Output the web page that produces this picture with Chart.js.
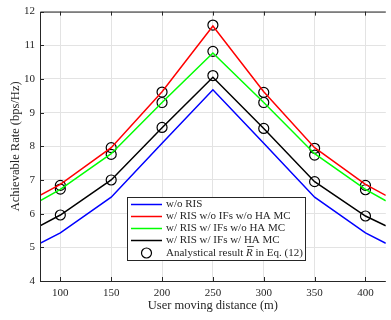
<!DOCTYPE html>
<html>
<head>
<meta charset="utf-8">
<script src="https://cdn.jsdelivr.net/npm/chart.js@4"></script>
<style>
html, body { margin: 0; padding: 0; background: #fff; overflow: hidden; }
#wrap { width: 392px; height: 320px; }
</style>
</head>
<body>
<div id="wrap"><canvas id="rateChart"></canvas></div>
<script>
// user moving distance (m)
const distance = [80, 100, 150, 200, 250, 300, 350, 400, 420];
const woRis      = [5.12, 5.43, 6.49, 8.09, 9.68, 8.09, 6.49, 5.43, 5.12];
const risNoIf    = [6.54, 6.87, 7.96, 9.62, 11.57, 9.62, 7.96, 6.87, 6.54];
const risIfNoHa  = [6.38, 6.72, 7.78, 9.30, 10.77, 9.30, 7.78, 6.72, 6.38];
const risIfHa    = [5.64, 5.96, 7.00, 8.55, 10.05, 8.53, 6.95, 5.93, 5.64];

// analytical result points
const anaDist = [100, 100, 100, 150, 150, 150, 200, 200, 200, 250, 250, 250, 300, 300, 300, 350, 350, 350, 400, 400, 400];
const anaRate = [6.84, 6.73, 5.96, 7.96, 7.76, 7.00, 9.61, 9.30, 8.56, 11.60, 10.82, 10.10, 9.60, 9.30, 8.53, 7.94, 7.74, 6.95, 6.84, 6.71, 5.93];

const xTicks = [100, 150, 200, 250, 300, 350, 400];
const yTicks = [4, 5, 6, 7, 8, 9, 10, 11, 12];

const legendLabels = ["w/o RIS", "w/ RIS w/o IFs w/o HA MC", "w/ RIS w/ IFs w/o HA MC", "w/ RIS w/ IFs w/ HA MC"];
const legendColors = ["#0000ff", "#ff0000", "#00ff00", "#000000"];

const serif = "'Liberation Serif', 'DejaVu Serif', serif";

function pts(xs, ys) {
  return xs.map((x, i) => ({ x: x, y: ys[i] }));
}

const lineSet = (label, vals, color) => ({
  label: label,
  data: pts(distance, vals),
  borderColor: color,
  borderWidth: 1.5,
  pointRadius: 0,
  fill: false,
  tension: 0
});

const frame = {
  id: "frame",
  afterDatasetsDraw(chart) {
    const c = chart.ctx;
    const a = chart.chartArea;
    const xs = chart.scales.x, ys = chart.scales.y;
    c.save();
    c.strokeStyle = "#262626";
    c.lineWidth = 1;
    c.beginPath();
    c.moveTo(a.left + 0.5, a.bottom + 0.5);
    c.lineTo(a.left + 0.5, a.top + 0.5);
    c.lineTo(a.right, a.top + 0.5);
    c.moveTo(a.left, a.bottom + 0.5);
    c.lineTo(a.right, a.bottom + 0.5);
    xTicks.forEach(v => {
      const px = Math.round(xs.getPixelForValue(v)) + 0.5;
      c.moveTo(px, a.top); c.lineTo(px, a.top + 4);
      c.moveTo(px, a.bottom); c.lineTo(px, a.bottom - 4);
    });
    yTicks.forEach(v => {
      const py = Math.round(ys.getPixelForValue(v)) + 0.5;
      c.moveTo(a.left, py); c.lineTo(a.left + 4, py);
    });
    c.stroke();

    // legend box
    const bx = 127.5, by = 197.5, bw = 178, bh = 63;
    c.fillStyle = "#fff";
    c.fillRect(bx, by, bw, bh);
    c.strokeStyle = "#262626";
    c.strokeRect(bx, by, bw, bh);
    c.font = "11px " + serif;
    c.textBaseline = "middle";
    c.textAlign = "left";
    const rows = [204.5, 216.5, 228.5, 240.5, 253];
    legendLabels.forEach((t, i) => {
      c.strokeStyle = legendColors[i];
      c.lineWidth = 1.5;
      c.beginPath();
      c.moveTo(131, rows[i]); c.lineTo(162, rows[i]);
      c.stroke();
      c.fillStyle = "#262626";
      c.fillText(t, 166, rows[i]);
    });
    c.strokeStyle = "#000";
    c.lineWidth = 1.2;
    c.beginPath();
    c.arc(146.5, rows[4], 5, 0, Math.PI * 2);
    c.stroke();
    c.fillStyle = "#262626";
    let tx = 166;
    const t1 = "Analystical result ";
    c.fillText(t1, tx, rows[4]);
    tx += c.measureText(t1).width;
    c.font = "italic 11px " + serif;
    c.fillText("R", tx, rows[4]);
    const rw = c.measureText("R").width;
    c.lineWidth = 0.8;
    c.strokeStyle = "#262626";
    c.beginPath();
    c.moveTo(tx + 1, rows[4] - 6.5); c.lineTo(tx + rw + 1, rows[4] - 6.5);
    c.stroke();
    tx += rw;
    c.font = "11px " + serif;
    c.fillText(" in Eq. (12)", tx, rows[4]);
    c.restore();
  }
};

new Chart(document.getElementById("rateChart"), {
  type: "line",
  data: {
    datasets: [
      lineSet(legendLabels[0], woRis, legendColors[0]),
      lineSet(legendLabels[1], risNoIf, legendColors[1]),
      lineSet(legendLabels[2], risIfNoHa, legendColors[2]),
      lineSet(legendLabels[3], risIfHa, legendColors[3]),
      {
        label: "Analystical result",
        data: pts(anaDist, anaRate),
        showLine: false,
        pointStyle: "circle",
        pointRadius: 5,
        pointBorderWidth: 1.2,
        pointBorderColor: "#000",
        pointBackgroundColor: "rgba(0,0,0,0)"
      }
    ]
  },
  plugins: [frame],
  options: {
    responsive: true,
    maintainAspectRatio: false,
    animation: false,
    layout: { padding: { top: 4, right: 0, left: 0, bottom: 0 } },
    plugins: {
      legend: { display: false },
      tooltip: { enabled: false }
    },
    scales: {
      x: {
        type: "linear",
        min: 80,
        max: 420,
        afterBuildTicks: s => { s.ticks = xTicks.map(v => ({ value: v })); },
        afterFit: s => { s.height = 39; },
        grid: { color: "#e3e3e3", drawTicks: false, tickLength: 0 },
        border: { display: false },
        ticks: { padding: 6, color: "#262626", font: { family: serif, size: 11 } },
        title: {
          display: true,
          text: "User moving distance (m)",
          color: "#262626",
          font: { family: serif, size: 12.5 },
          padding: { top: 0, bottom: 7 }
        }
      },
      y: {
        min: 4,
        max: 12,
        afterBuildTicks: s => { s.ticks = yTicks.map(v => ({ value: v })); },
        afterFit: s => { s.width = 40; },
        grid: { color: "#e3e3e3", drawTicks: false, tickLength: 0 },
        border: { display: false },
        ticks: { padding: 5, color: "#262626", font: { family: serif, size: 11 } },
        title: {
          display: true,
          text: "Achievable Rate (bps/Hz)",
          color: "#262626",
          font: { family: serif, size: 12.5 },
          padding: { top: 8, bottom: 0 }
        }
      }
    }
  }
});
</script>
</body>
</html>
